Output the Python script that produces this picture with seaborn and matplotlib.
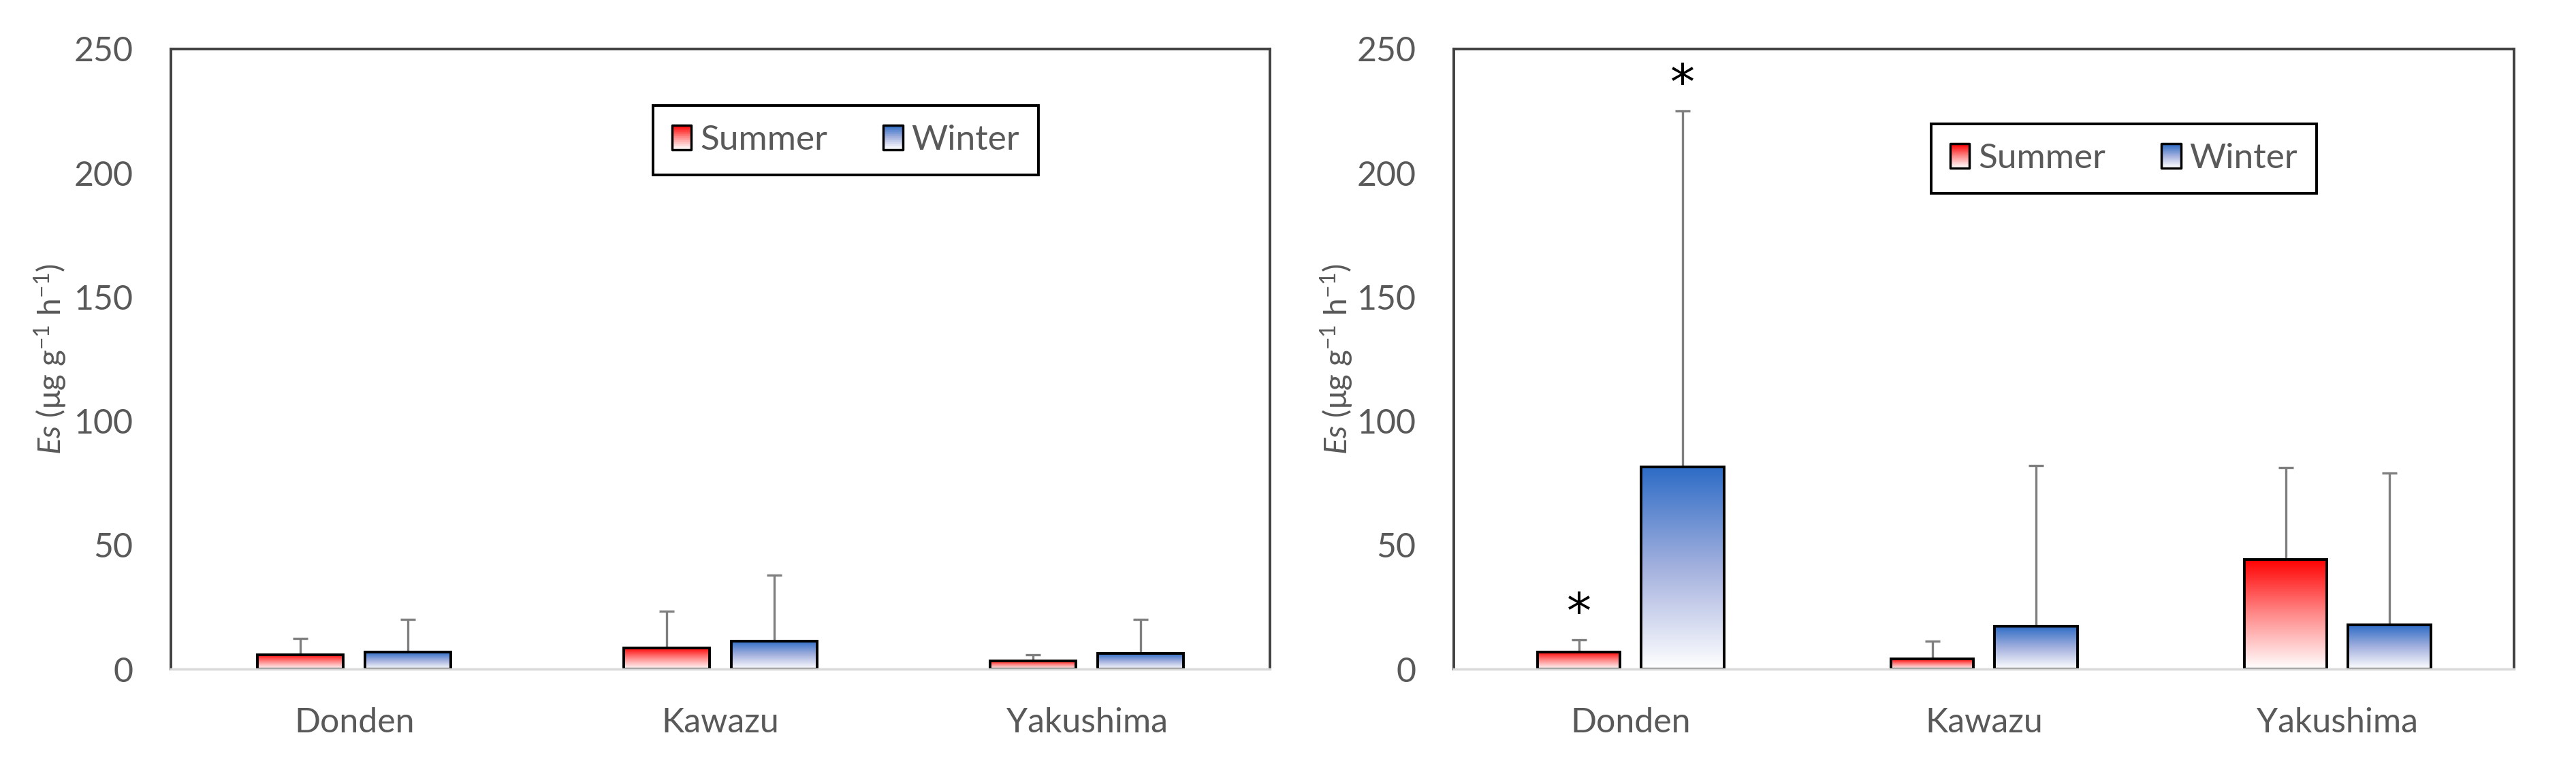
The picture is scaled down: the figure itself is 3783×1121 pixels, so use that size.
import numpy as np
import pandas as pd
import matplotlib
matplotlib.use("Agg")
import matplotlib.pyplot as plt
import seaborn as sns
from matplotlib.colors import LinearSegmentedColormap
from matplotlib.patches import Rectangle
from matplotlib.legend_handler import HandlerBase

sns.set_style("white")
plt.rcParams['font.family'] = ['Lato', 'DejaVu Sans']
plt.rcParams['mathtext.fontset'] = 'custom'
plt.rcParams['mathtext.rm'] = 'Lato'
plt.rcParams['mathtext.it'] = 'Lato:italic'

sites = ['Donden', 'Kawazu', 'Yakushima']
seasons = ['Summer', 'Winter']

# left panel: mean and SD (upper error only)
left_summer = [5.8, 8.6, 3.4]
left_summer_sd = [6.5, 14.6, 2.4]
left_winter = [6.8, 11.3, 6.3]
left_winter_sd = [13.2, 26.7, 13.7]

# right panel
right_summer = [6.9, 4.0, 44.3]
right_summer_sd = [4.9, 7.2, 36.8]
right_winter = [81.5, 17.2, 17.8]
right_winter_sd = [143.5, 64.8, 61.2]
# significance marks (asterisks) on right panel
right_summer_sig = [True, False, False]
right_winter_sig = [True, False, False]

yticks = [0, 50, 100, 150, 200, 250]

grad_colors = {
    'Summer': ['#FFFFFF', '#FF8A8A', '#FF0000'],
    'Winter': ['#FFFFFF', '#A4B1DE', '#2E6CC6'],
}
text_grey = '#595959'


def make_df(summer, summer_sd, winter, winter_sd):
    rows = []
    for i, s in enumerate(sites):
        rows.append({'site': s, 'season': 'Summer', 'value': summer[i], 'sd': summer_sd[i]})
        rows.append({'site': s, 'season': 'Winter', 'value': winter[i], 'sd': winter_sd[i]})
    return pd.DataFrame(rows)


class GradientHandler(HandlerBase):
    def __init__(self, colors):
        super().__init__()
        self.cmap = LinearSegmentedColormap.from_list('lg', colors)

    def create_artists(self, legend, orig_handle, xdescent, ydescent,
                       width, height, fontsize, trans):
        n = 24
        arts = []
        for k in range(n):
            r = Rectangle((-xdescent, -ydescent + height * k / n), width, height / n + 0.3,
                          facecolor=self.cmap(k / (n - 1)), edgecolor='none',
                          transform=trans)
            arts.append(r)
        arts.append(Rectangle((-xdescent, -ydescent), width, height, facecolor='none',
                              edgecolor='black', linewidth=2.5, transform=trans,
                              joinstyle='round'))
        return arts


def draw_panel(ax, df, sig=None):
    sns.barplot(data=df, x='site', y='value', hue='season', hue_order=seasons,
                order=sites, errorbar=None, width=0.586, gap=0.2,
                palette=['#FF0000', '#2E6CC6'], edgecolor='black', linewidth=2.8,
                ax=ax, legend=False)

    for season, cont in zip(seasons, ax.containers):
        cmap = LinearSegmentedColormap.from_list('g' + season, grad_colors[season])
        sub = df[df['season'] == season].set_index('site').loc[sites]
        for j, bar in enumerate(cont):
            x0, y0 = bar.get_x(), bar.get_y()
            w, h = bar.get_width(), bar.get_height()
            grad = np.linspace(0, 1, 256).reshape(-1, 1)
            im = ax.imshow(grad, cmap=cmap, origin='lower', aspect='auto',
                           extent=[x0, x0 + w, y0, y0 + h], zorder=0.9)
            im.set_clip_path(bar)
            bar.set_facecolor('none')
            bar.set_zorder(1.0)
            xc = x0 + w / 2
            ax.errorbar(xc, h, yerr=[[0], [sub['sd'].iloc[j]]], fmt='none',
                        ecolor='#7F7F7F', elinewidth=2.4, capsize=8, capthick=2.4,
                        zorder=0.8)
            if sig is not None and sig[season][j]:
                ax.annotate('*', (xc, h + sub['sd'].iloc[j]), xytext=(0, 2),
                            textcoords='offset points', ha='center', va='bottom',
                            fontsize=52, color='black', family='DejaVu Sans')

    ax.set_xlim(-0.5, 2.5)
    ax.set_ylim(0, 250)
    ax.set_yticks(yticks)
    ax.set_xlabel('')
    ax.set_ylabel(r'$\mathit{Es}$ (μg g$^{\mathregular{-1}}$ h$^{\mathregular{-1}}$)',
                  fontsize=33, color=text_grey)
    ax.yaxis.set_label_coords(-0.093, 0.5)
    ax.tick_params(axis='y', length=0, labelsize=36, labelcolor=text_grey, pad=40)
    ax.tick_params(axis='x', length=0, labelsize=36, labelcolor=text_grey, pad=40)
    for side in ['left', 'top', 'right']:
        ax.spines[side].set_color('#404040')
        ax.spines[side].set_linewidth(2.8)
    ax.spines['bottom'].set_color('#D9D9D9')
    ax.spines['bottom'].set_linewidth(2.5)
    ax.spines['bottom'].set_zorder(3)


fig = plt.figure(figsize=(37.83, 11.21), dpi=100)
ax1 = fig.add_axes([0.0664, 0.1231, 0.4266, 0.8127])
ax2 = fig.add_axes([0.5644, 0.1231, 0.4116, 0.8127])

draw_panel(ax1, make_df(left_summer, left_summer_sd, left_winter, left_winter_sd))
draw_panel(ax2, make_df(right_summer, right_summer_sd, right_winter, right_winter_sd),
           sig={'Summer': right_summer_sig, 'Winter': right_winter_sig})

for ax, anchor in [(ax1, (0.614, 0.853)), (ax2, (0.632, 0.823))]:
    h1 = Rectangle((0, 0), 1, 1)
    h2 = Rectangle((0, 0), 1, 1)
    leg = ax.legend([h1, h2], seasons, loc='center', bbox_to_anchor=anchor, ncol=2,
                    fontsize=37, labelcolor=text_grey, frameon=True, fancybox=False,
                    framealpha=1, edgecolor='black', handlelength=0.55, handleheight=0.7,
                    handletextpad=0.25, columnspacing=1.6, borderpad=0.55,
                    handler_map={h1: GradientHandler(grad_colors['Summer']),
                                 h2: GradientHandler(grad_colors['Winter'])})
    leg.get_frame().set_linewidth(2.8)

fig.savefig('out.png', dpi=100)
